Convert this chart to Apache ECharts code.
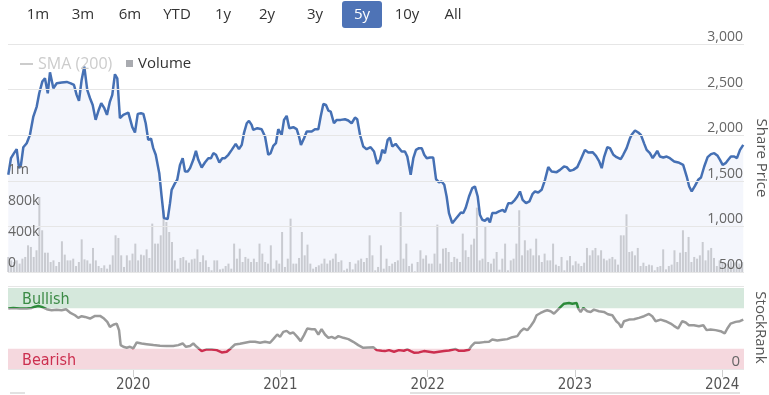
<!DOCTYPE html>
<html><head><meta charset="utf-8">
<script src="https://cdn.jsdelivr.net/npm/echarts@6/dist/echarts.min.js"></script>
<style>html,body{margin:0;padding:0;background:#fff}#c{width:769px;height:395px}</style>
</head><body><div id="c"></div>
<script>
// ---------- data ----------
const rangeButtons = ['1m','3m','6m','YTD','1y','2y','3y','5y','10y','All'];
const selectedRange = '5y';
const yearTicks = [2020, 2021, 2022, 2023, 2024];
const xMin = 2019.151, xMax = 2024.148;   // decimal years shown (5y window)

// Share price (decimal year, price)
const priceT = [
2019.153,2019.171,2019.192,2019.210,2019.226,2019.239,2019.255,2019.278,2019.300,2019.323,
2019.346,2019.363,2019.384,2019.402,2019.421,2019.436,2019.459,2019.482,2019.516,2019.550,
2019.577,2019.599,2019.617,2019.633,2019.651,2019.669,2019.689,2019.708,2019.726,2019.746,
2019.767,2019.784,2019.805,2019.823,2019.843,2019.859,2019.877,2019.893,2019.911,2019.934,
2019.968,2019.979,2019.995,2020.013,2020.032,2020.054,2020.070,2020.086,2020.103,2020.122,
2020.137,2020.154,2020.165,2020.178,2020.194,2020.210,2020.222,2020.235,2020.251,2020.262,
2020.285,2020.300,2020.319,2020.337,2020.353,2020.371,2020.387,2020.409,2020.427,2020.443,
2020.466,2020.488,2020.511,2020.529,2020.545,2020.563,2020.586,2020.606,2020.624,2020.647,
2020.670,2020.697,2020.719,2020.738,2020.753,2020.772,2020.787,2020.805,2020.816,2020.844,
2020.873,2020.896,2020.918,2020.934,2020.952,2020.970,2020.986,2021.009,2021.025,2021.043,
2021.061,2021.088,2021.111,2021.127,2021.140,2021.161,2021.179,2021.213,2021.235,2021.258,
2021.274,2021.292,2021.310,2021.326,2021.342,2021.364,2021.383,2021.410,2021.439,2021.461,
2021.484,2021.507,2021.522,2021.541,2021.563,2021.586,2021.613,2021.636,2021.658,2021.677,
2021.692,2021.710,2021.729,2021.744,2021.760,2021.783,2021.801,2021.824,2021.846,2021.862,
2021.885,2021.903,2021.921,2021.941,2021.960,2021.977,2021.994,2022.016,2022.038,2022.057,
2022.077,2022.095,2022.113,2022.129,2022.145,2022.167,2022.186,2022.208,2022.226,2022.242,
2022.258,2022.281,2022.303,2022.321,2022.340,2022.355,2022.371,2022.389,2022.408,2022.423,
2022.439,2022.462,2022.484,2022.510,2022.525,2022.548,2022.571,2022.593,2022.609,2022.627,
2022.645,2022.668,2022.691,2022.713,2022.729,2022.751,2022.774,2022.797,2022.819,2022.842,
2022.876,2022.899,2022.926,2022.944,2022.966,2022.989,2023.016,2023.039,2023.068,2023.091,
2023.120,2023.143,2023.165,2023.182,2023.199,2023.220,2023.238,2023.261,2023.283,2023.311,
2023.328,2023.351,2023.374,2023.385,2023.408,2023.430,2023.448,2023.471,2023.487,2023.509,
2023.528,2023.543,2023.559,2023.577,2023.600,2023.623,2023.645,2023.674,2023.702,2023.735,
2023.759,2023.776,2023.793,2023.815,2023.837,2023.856,2023.878,2023.901,2023.924,2023.946,
2023.969,2023.985,2024.003,2024.023,2024.041,2024.059,2024.082,2024.100,2024.121,2024.143
];
const priceV = [
1566,1748,1803,1847,1639,1675,1868,1912,2004,2204,
2314,2460,2588,2624,2460,2690,2515,2569,2577,2584,
2569,2551,2442,2376,2606,2752,2496,2405,2332,2168,
2277,2350,2296,2223,2369,2442,2668,2624,2186,2223,
2248,2241,2088,2029,2234,2241,2234,2131,1949,1963,
1858,1785,1766,1584,1328,1091,1073,1080,1255,1401,
1474,1511,1675,1748,1602,1602,1639,1730,1828,1730,
1646,1701,1748,1748,1803,1785,1701,1748,1748,1785,
1839,1905,1847,1894,2022,2131,2157,2113,2058,2077,
2066,1985,1785,1803,1883,1912,2066,2004,2168,2212,
2077,2088,2066,1985,1894,1967,2040,2040,2066,2066,
2204,2343,2332,2270,2259,2131,2168,2168,2175,2161,
2131,2193,2175,2004,1876,1847,1868,1821,1686,1730,
1839,1803,1949,1974,1876,1905,1868,1821,1821,1766,
1566,1748,1839,1858,1858,1785,1748,1755,1755,1518,
1482,1493,1456,1328,1146,1036,1073,1117,1153,1146,
1201,1328,1420,1438,1328,1128,1073,1062,1091,1044,
1146,1146,1164,1182,1157,1255,1255,1292,1328,1383,
1292,1255,1274,1357,1383,1372,1401,1511,1650,1602,
1595,1620,1657,1650,1609,1620,1650,1730,1839,1810,
1814,1774,1712,1639,1766,1868,1858,1785,1759,1737,
1785,1858,1967,2004,2051,2029,2004,1905,1839,1803,
1748,1785,1828,1766,1755,1766,1748,1712,1701,1675,
1547,1438,1383,1445,1511,1536,1657,1759,1792,1803,
1774,1730,1675,1693,1730,1766,1766,1748,1839,1894
];

// Weekly volume (thousands of shares), first week starting at volStart
const volStart = 2019.153;
const volWeek = 7 / 365.25;
const volumeK = [
194,150,129,150,108,172,194,344,323,194,280,968,538,249,249,129,150,77,129,396,224,150,150,172,77,129,421,163,150,108,310,150,77,52,86,43,95,215,473,439,215,65,215,
150,237,366,150,224,215,292,181,624,366,366,473,796,645,516,387,150,43,181,194,150,120,163,172,292,129,215,150,65,22,150,150,34,43,77,108,43,366,172,301,129,194,172,129,
172,129,366,237,129,108,344,43,150,108,516,65,172,688,108,108,181,516,215,353,108,43,65,86,108,172,108,150,172,237,129,150,22,43,129,34,108,150,172,129,181,473,215,
22,65,344,43,172,77,108,129,150,774,172,366,77,108,9,129,280,172,215,108,108,237,611,108,301,310,258,129,194,172,129,495,280,194,353,430,830,150,172,593,129,108,172,258,
30,172,366,22,150,172,366,796,215,409,280,301,215,430,215,129,237,150,150,366,95,77,194,22,150,206,86,138,108,77,120,310,215,280,310,215,280,172,150,172,194,163,95,473,
473,744,258,267,215,310,77,120,77,95,86,22,65,77,292,34,77,95,280,129,249,538,258,452,129,194,172,215,387,150,280,310,181,77,150,129,108,108,138,120,129,108,129
];

// StockRank (decimal year, rank 0-100)
const rankT = [
2019.153,2019.187,2019.232,2019.278,2019.312,2019.334,2019.357,2019.380,2019.414,2019.447,
2019.481,2019.515,2019.545,2019.572,2019.606,2019.628,2019.651,2019.674,2019.708,2019.742,
2019.776,2019.803,2019.825,2019.843,2019.866,2019.889,2019.905,2019.916,2019.934,2019.957,
2019.979,2020.002,2020.025,2020.058,2020.092,2020.138,2020.183,2020.228,2020.273,2020.307,
2020.337,2020.359,2020.387,2020.409,2020.432,2020.466,2020.500,2020.534,2020.568,2020.602,
2020.636,2020.663,2020.692,2020.726,2020.760,2020.794,2020.828,2020.862,2020.896,2020.930,
2020.952,2020.979,2020.998,2021.020,2021.043,2021.065,2021.088,2021.115,2021.138,2021.161,
2021.183,2021.213,2021.235,2021.258,2021.280,2021.303,2021.326,2021.348,2021.371,2021.394,
2021.428,2021.462,2021.495,2021.529,2021.563,2021.597,2021.631,2021.654,2021.688,2021.710,
2021.738,2021.772,2021.805,2021.839,2021.862,2021.885,2021.907,2021.941,2021.975,2022.009,
2022.043,2022.077,2022.111,2022.145,2022.168,2022.190,2022.213,2022.247,2022.281,2022.297,
2022.319,2022.349,2022.383,2022.417,2022.439,2022.473,2022.507,2022.541,2022.575,2022.609,
2022.632,2022.654,2022.677,2022.699,2022.722,2022.740,2022.767,2022.790,2022.812,2022.835,
2022.858,2022.880,2022.903,2022.926,2022.960,2022.982,2023.012,2023.023,2023.039,2023.057,
2023.084,2023.107,2023.129,2023.163,2023.197,2023.224,2023.254,2023.281,2023.299,2023.315,
2023.333,2023.367,2023.401,2023.435,2023.469,2023.503,2023.525,2023.548,2023.582,2023.616,
2023.650,2023.672,2023.700,2023.729,2023.752,2023.774,2023.808,2023.842,2023.872,2023.894,
2023.921,2023.955,2023.989,2024.017,2024.035,2024.057,2024.091,2024.120,2024.143
];
const rankV = [
74.6,75.4,74.6,74.6,75.4,77.0,77.8,76.7,73.8,72.5,
73.3,72.5,73.8,69.7,66.4,63.1,65.2,64.3,62.3,65.6,
65.6,62.3,58.2,52.0,54.7,56.0,47.9,29.5,27.4,26.2,
27.4,25.4,32.8,31.5,30.7,29.5,28.7,28.3,28.3,29.5,
31.5,27.4,28.3,31.5,27.4,22.1,24.2,24.2,23.3,20.5,
21.3,25.4,30.3,31.2,32.4,33.6,33.6,32.4,33.6,32.4,
36.9,42.6,39.7,45.9,47.1,43.9,45.1,39.7,34.4,41.8,
50.0,49.2,49.2,42.6,49.2,42.6,38.5,39.7,37.7,40.6,
38.5,36.9,33.6,29.5,26.2,26.6,27.0,23.3,22.5,22.1,
23.3,21.3,23.3,22.5,24.2,22.1,20.1,20.5,22.1,21.3,
20.5,21.3,22.1,22.9,23.8,24.6,22.5,22.5,23.8,28.3,
32.4,32.4,33.2,33.6,36.5,35.3,36.1,36.9,39.3,40.6,
46.7,50.0,47.9,52.9,58.9,66.4,69.2,71.3,72.5,71.3,
68.4,72.5,76.7,80.7,81.5,80.7,81.5,74.6,70.4,75.4,
71.3,70.5,73.3,71.3,70.5,67.6,66.4,59.0,56.1,51.2,
59.0,61.0,61.4,63.1,65.2,68.0,65.2,59.0,61.0,59.0,
56.1,53.3,50.0,59.0,57.4,54.1,54.1,52.9,54.1,48.0,
48.8,48.0,46.7,43.9,50.0,56.1,58.2,59.0,61.0
];
const bearishMax = 25, bullishMin = 75, rankMax = 100;

// ---------- layout / style ----------
const FONT = "'Open Sans', 'DejaVu Sans', sans-serif";
const NARROW = "'Liberation Sans Narrow', 'DejaVu Sans Condensed', 'Open Sans', sans-serif";
const buttonCenters = [38, 83, 130, 177, 223, 267, 315, 362, 407, 453];

const priceData = priceT.map((t, i) => [t, priceV[i]]);
const volumeData = volumeK.map((v, i) => [volStart + i * volWeek, v * 1000]);
const rankData = rankT.map((t, i) => [t, rankV[i]]);

const graphics = [];
rangeButtons.forEach((b, i) => {
  const sel = b === selectedRange;
  if (sel) graphics.push({ type: 'rect', left: buttonCenters[i] - 20, top: 1, shape: { width: 40, height: 27, r: 3 }, style: { fill: '#4e73b6' } });
  graphics.push({ type: 'text', x: buttonCenters[i], y: 15, style: { text: b, fill: sel ? '#fff' : '#333', font: '15px ' + FONT, textAlign: 'center', textVerticalAlign: 'middle' } });
});
graphics.push({ type: 'rect', left: 10, top: 392, shape: { width: 15, height: 2 }, style: { fill: '#e2e2e2' } });
graphics.push({ type: 'rect', left: 410, top: 392, shape: { width: 330, height: 2 }, style: { fill: '#e2e2e2' } });

const chart = echarts.init(document.getElementById('c'), null, { renderer: 'canvas' });
chart.setOption({
  animation: false,
  textStyle: { fontFamily: FONT },
  graphic: graphics,
  legend: [
    { data: [{ name: 'SMA (200)' }], left: 15, top: 51, icon: 'rect', itemWidth: 13, itemHeight: 2, itemGap: 10,
      selected: { 'SMA (200)': false }, inactiveColor: '#cccccc', textStyle: { fontSize: 16, color: '#333', fontFamily: FONT } },
    { data: [{ name: 'Volume', itemStyle: { color: '#a9abb0' } }], left: 121, top: 51, icon: 'rect', itemWidth: 7, itemHeight: 7,
      textStyle: { fontSize: 15, color: '#333', fontFamily: FONT } }
  ],
  grid: [
    { left: 8, right: 25, top: 44, height: 228, containLabel: false, outerBoundsMode: 'none' },
    { left: 8, right: 25, top: 286, height: 83, containLabel: false, outerBoundsMode: 'none' }
  ],
  xAxis: [
    { type: 'value', gridIndex: 0, min: xMin, max: xMax, show: false },
    { type: 'value', gridIndex: 1, min: xMin, max: xMax,
      axisLine: { show: false }, splitLine: { show: false },
      axisTick: { show: true, customValues: yearTicks, length: 8, lineStyle: { color: '#d0d0d0' } },
      axisLabel: { customValues: yearTicks, formatter: v => String(v), margin: 9, color: '#555', fontSize: 15, fontFamily: NARROW } }
  ],
  yAxis: [
    { type: 'value', gridIndex: 0, position: 'right', min: 500, max: 3000, interval: 500, z: 5,
      axisLine: { show: false }, axisTick: { show: false },
      splitLine: { lineStyle: { color: '#e6e6e6' } },
      axisLabel: { inside: true, margin: 1, verticalAlign: 'bottom', color: '#666', fontSize: 14,
        formatter: v => v.toLocaleString('en-US') },
      name: 'Share Price', nameLocation: 'middle', nameRotate: -90, nameGap: 7,
      nameTextStyle: { color: '#555', fontSize: 15 } },
    { type: 'value', gridIndex: 0, position: 'left', min: 0, max: 2940000, interval: 400000, z: 5,
      axisLine: { show: false }, axisTick: { show: false }, splitLine: { show: false },
      axisLabel: { inside: true, margin: 0, verticalAlign: 'bottom', color: '#666', fontSize: 14, padding: [0, 0, 2, 0],
        formatter: v => v === 0 ? '0' : v > 1200000 ? '' : v < 1e6 ? (v / 1000) + 'k' : Math.round(v / 1e6) + 'm' } },
    { type: 'value', gridIndex: 1, position: 'right', min: 0, max: rankMax * 1.025, interval: rankMax * 1.025, z: 5,
      axisLine: { show: false }, axisTick: { show: false },
      splitLine: { show: true, lineStyle: { color: '#e6e6e6' } },
      axisLabel: { inside: true, margin: 4, verticalAlign: 'bottom', color: '#666', fontSize: 15,
        formatter: v => v === 0 ? '0' : '' },
      name: 'StockRank', nameLocation: 'middle', nameRotate: -90, nameGap: 7,
      nameTextStyle: { color: '#555', fontSize: 15 } }
  ],
  visualMap: {
    type: 'piecewise', show: false, seriesIndex: 4, dimension: 1,
    pieces: [
      { lt: bearishMax, color: '#cc2f4f' },
      { gte: bearishMax, lte: bullishMin, color: '#9a9a9a' },
      { gt: bullishMin, color: '#2c8a3a' }
    ]
  },
  series: [
    { name: 'PriceArea', type: 'line', xAxisIndex: 0, yAxisIndex: 0, data: priceData, symbol: 'none',
      lineStyle: { width: 0 }, areaStyle: { color: '#f4f6fc', opacity: 1, origin: 'start' }, z: 1, silent: true },
    { name: 'Volume', type: 'bar', xAxisIndex: 0, yAxisIndex: 1, data: volumeData, barWidth: 2,
      itemStyle: { color: '#c9cbd1' }, z: 2 },
    { name: 'Share Price', type: 'line', xAxisIndex: 0, yAxisIndex: 0, data: priceData, symbol: 'none',
      lineStyle: { color: '#4570b4', width: 2.5 }, z: 3 },
    { name: 'SMA (200)', type: 'line', xAxisIndex: 0, yAxisIndex: 0, data: [], symbol: 'none',
      lineStyle: { color: '#8a8a8a', width: 1 } },
    { name: 'StockRank', type: 'line', xAxisIndex: 1, yAxisIndex: 2, data: rankData, symbol: 'none',
      lineStyle: { width: 2.5 }, z: 3,
      markArea: { silent: true,
        data: [
          [ { yAxis: bullishMin, itemStyle: { color: '#d5e8dc' },
              label: { show: true, position: 'insideLeft', offset: [9, 2], formatter: 'Bullish', color: '#3b8a45', fontSize: 16, fontFamily: NARROW } },
            { yAxis: rankMax } ],
          [ { yAxis: 0, itemStyle: { color: '#f5d8de' },
              label: { show: true, position: 'insideLeft', offset: [9, 2], formatter: 'Bearish', color: '#cc2f4f', fontSize: 16, fontFamily: NARROW } },
            { yAxis: bearishMax } ]
        ] } }
  ]
});
</script></body></html>
